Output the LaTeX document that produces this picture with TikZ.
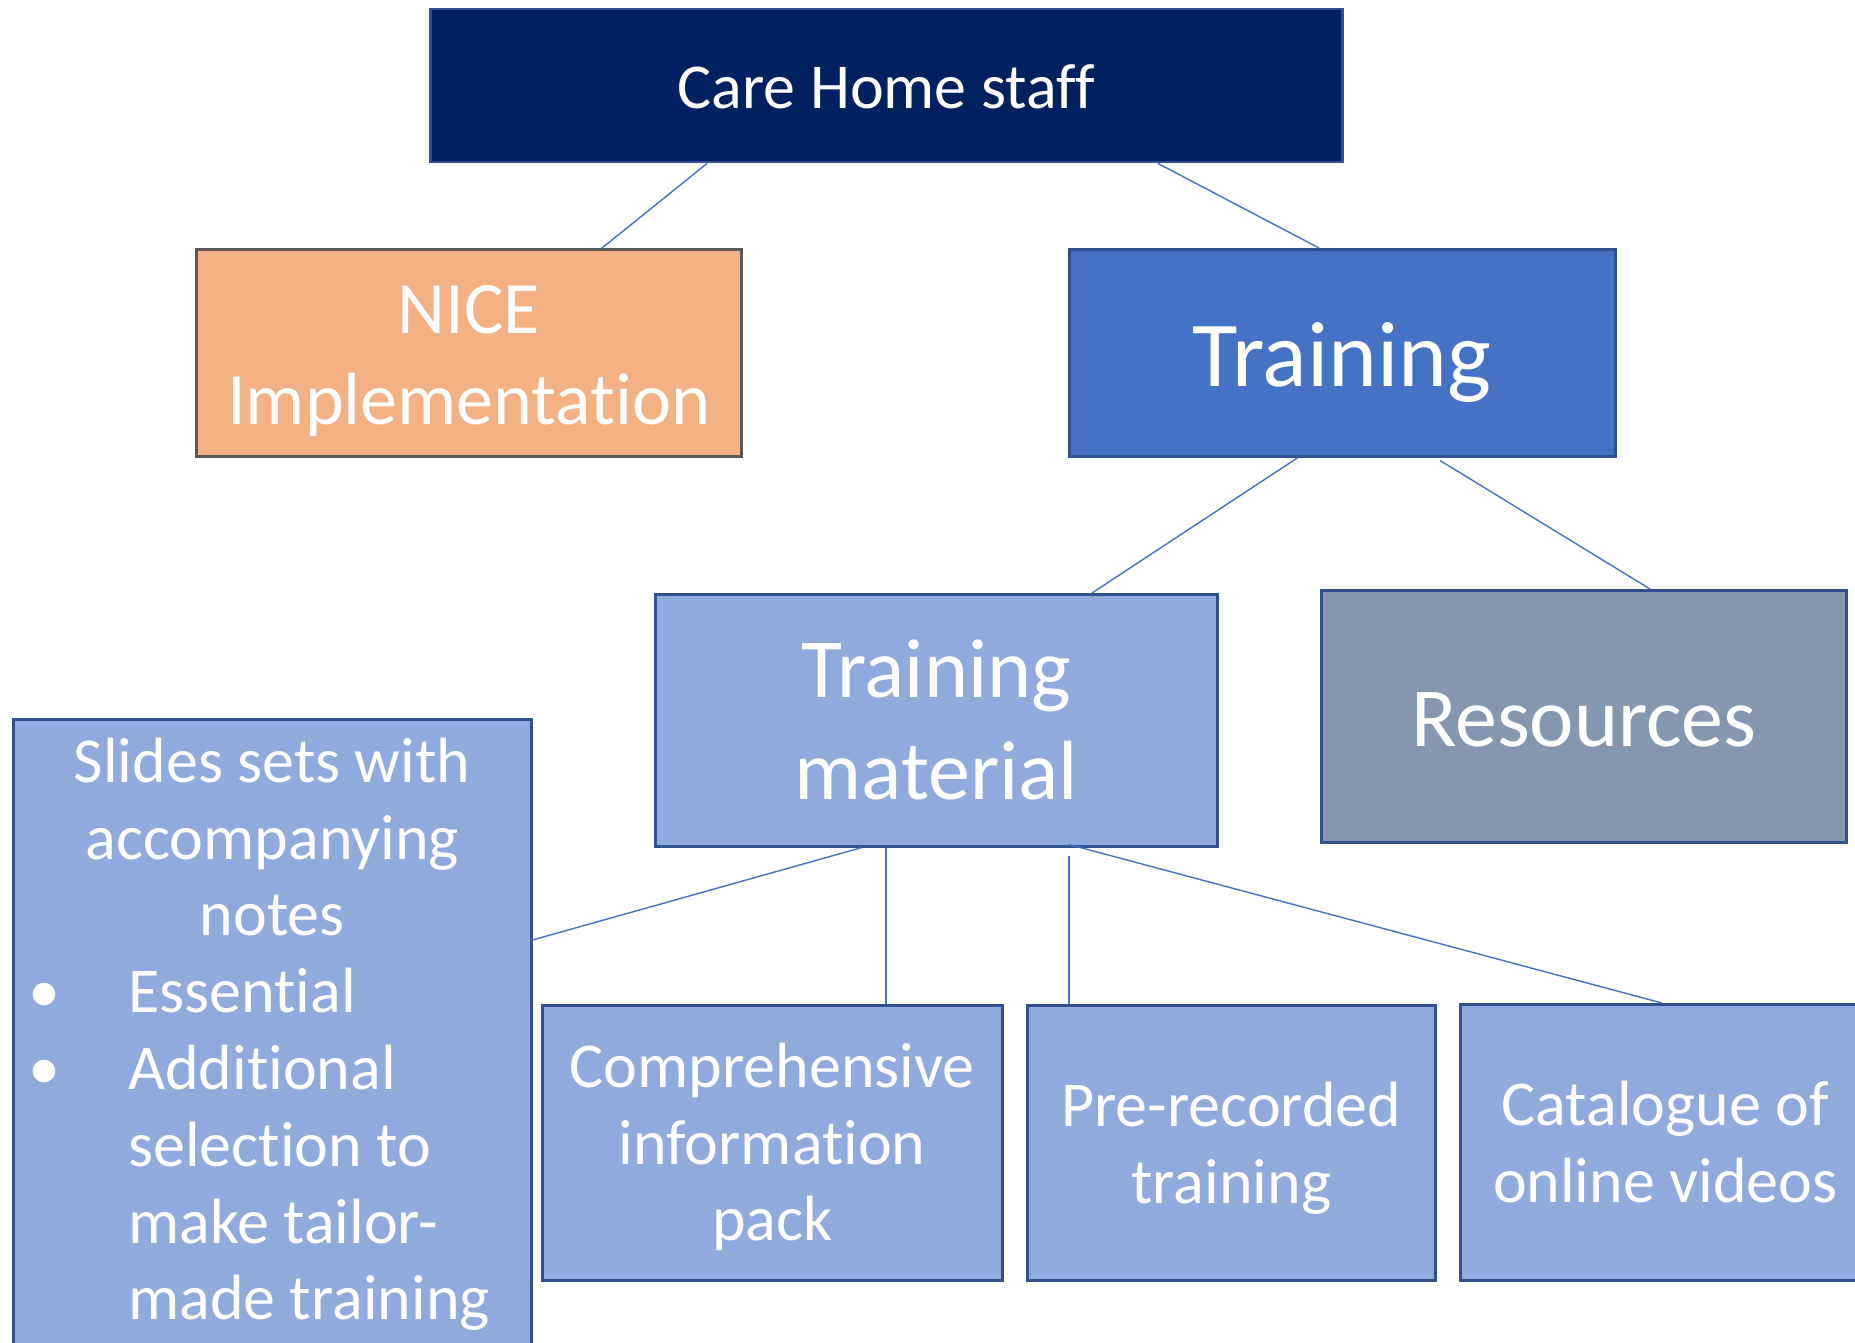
\documentclass[tikz,border=0pt]{standalone}
\usepackage{fontspec}
\setmainfont{Carlito}[Ligatures={NoCommon,NoContextual}]
\usetikzlibrary{calc}
\definecolor{navy}{HTML}{002060}
\definecolor{bord}{HTML}{2F528F}
\definecolor{nicefill}{HTML}{F4B183}
\definecolor{niceborder}{HTML}{595959}
\definecolor{trainfill}{HTML}{4472C4}
\definecolor{lightfill}{HTML}{8FAADC}
\definecolor{resfill}{HTML}{8497B0}
\definecolor{conn}{HTML}{4472C4}
\newcommand\mlines[1]{\vtop{\halign{\hfil##\hfil\cr#1\crcr}}}
\newcommand\slcentre[1]{\hbox to 518pt{\hfil#1\hfil}}
\newcommand\slbullet[2]{\hbox to 518pt{\hskip15pt\hbox to 100pt{#1\hfil}#2\hfil}}
\begin{document}
\begin{tikzpicture}[x=1pt,y=-1pt,
  box/.style={draw=bord, line width=2.5pt, anchor=north west, inner sep=0pt, text=white},
  link/.style={draw=conn, line width=1.4pt},
  fsmall/.style={font=\fontsize{64}{76.8}\selectfont},
  fnice/.style={font=\fontsize{74}{91}\selectfont},
  fmid/.style={font=\fontsize{84}{102}\selectfont},
  fbig/.style={font=\fontsize{93}{112}\selectfont}]
\useasboundingbox (0,0) rectangle (1855,1343);
\clip (0,0) rectangle (1855,1343);
\fill[white] (0,0) rectangle (1855,1343);

\node[box, fill=navy, minimum width=912pt, minimum height=153pt, fsmall,
      text height=45pt, text depth=0pt] (care) at (429,8) {\mlines{Care Home staff}};
\node[box, fill=nicefill, draw=niceborder, minimum width=545pt, minimum height=207pt, fnice,
      text height=0pt, text depth=39pt] (nice) at (195,248) {\mlines{NICE\cr Implementation}};
\node[box, fill=trainfill, minimum width=546pt, minimum height=207pt, fbig,
      text height=67pt, text depth=0pt] (train) at (1068,248) {\mlines{Training}};
\node[box, fill=lightfill, minimum width=562pt, minimum height=252pt, fmid,
      text height=0pt, text depth=46pt] (tm) at (654,593) {\mlines{Training\cr material}};
\node[box, fill=resfill, minimum width=525pt, minimum height=252pt, fmid,
      text height=60pt, text depth=0pt] (res) at (1320,589) {\mlines{Resources}};
\node[box, fill=lightfill, minimum width=518pt, minimum height=640pt, fsmall,
      text height=0pt, text depth=514pt] (slides) at (12,718) {\vtop{\hsize=518pt
      \slcentre{Slides sets with}
      \slcentre{accompanying}
      \slcentre{notes}
      \slbullet{•}{Essential}
      \slbullet{•}{Additional}
      \slbullet{}{selection to}
      \slbullet{}{make tailor-}
      \slbullet{}{made training}}};
\node[box, fill=lightfill, minimum width=460pt, minimum height=275pt, fsmall,
      text height=0pt, text depth=111pt] (comp) at (541,1004) {\mlines{Comprehensive\cr information\cr pack}};
\node[box, fill=lightfill, minimum width=408pt, minimum height=275pt, fsmall,
      text height=0pt, text depth=33pt] (pre) at (1026,1004) {\mlines{Pre-recorded\cr training}};
\node[box, fill=lightfill, minimum width=410pt, minimum height=276pt, fsmall,
      text height=0pt, text depth=33pt] (cat) at (1459,1003) {\mlines{Catalogue of\cr online videos}};

\draw[link] ([xshift=278pt]care.south west) -- ([xshift=407pt]nice.north west);
\draw[link] ([xshift=729pt]care.south west) -- ([xshift=251pt]train.north west);
\draw[link] ([xshift=230pt]train.south west) -- ([xshift=438pt]tm.north west);
\draw[link] ([xshift=372pt,yshift=-3pt]train.south west) -- ([xshift=330pt]res.north west);
\draw[link] ([xshift=208pt]tm.south west) -- ([yshift=-222pt]slides.north east);
\draw[link] ([xshift=232pt]tm.south west) -- ([xshift=345pt]comp.north west);
\draw[link] ([xshift=415pt,yshift=-8pt]tm.south west) -- ([xshift=43pt]pre.north west);
\draw[link] ([xshift=415pt,yshift=3pt]tm.south west) -- ([xshift=203pt]cat.north west);
\end{tikzpicture}
\end{document}
